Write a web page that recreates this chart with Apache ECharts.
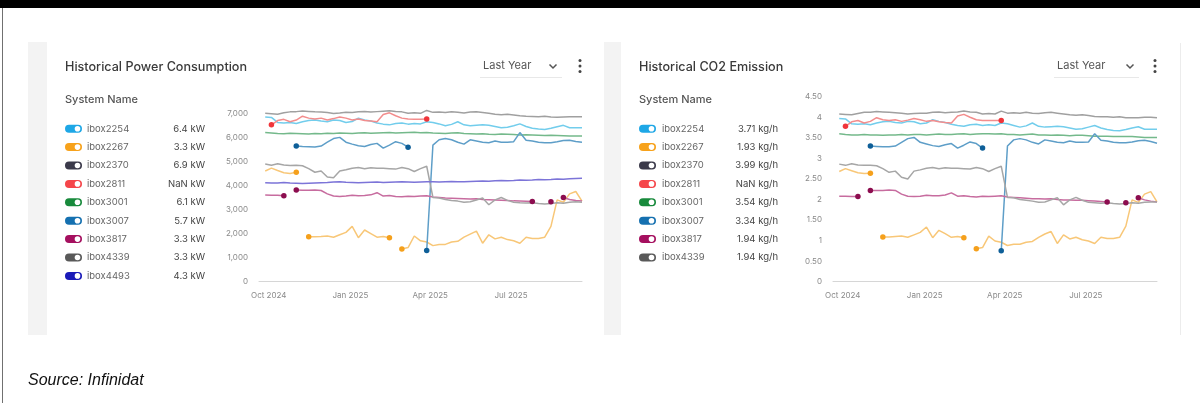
<!DOCTYPE html>
<html><head><meta charset="utf-8">
<script src="https://cdn.jsdelivr.net/npm/echarts@6/dist/echarts.min.js"></script>
<style>html,body{margin:0;padding:0;background:#fff}#c{width:1200px;height:403px}</style>
</head><body><div id="c"></div>
<script>
// ---- categories ----
const dates = ['2024-09-27','2024-10-04','2024-10-11','2024-10-18','2024-10-25','2024-11-01','2024-11-08','2024-11-15','2024-11-22','2024-11-29',
'2024-12-06','2024-12-13','2024-12-20','2024-12-27','2025-01-03','2025-01-10','2025-01-17','2025-01-24','2025-01-31','2025-02-07',
'2025-02-14','2025-02-21','2025-02-28','2025-03-07','2025-03-14','2025-03-21','2025-03-28','2025-04-04','2025-04-11','2025-04-18',
'2025-04-25','2025-05-02','2025-05-09','2025-05-16','2025-05-23','2025-05-30','2025-06-06','2025-06-13','2025-06-20','2025-06-27',
'2025-07-04','2025-07-11','2025-07-18','2025-07-25','2025-08-01','2025-08-08','2025-08-15','2025-08-22','2025-08-29','2025-09-05',
'2025-09-12','2025-09-19'];
const systems = ['ibox2254','ibox2267','ibox2370','ibox2811','ibox3001','ibox3007','ibox3817','ibox4339','ibox4493'];
const xTickDates = ['2024-10-01','2025-01-01','2025-04-01','2025-07-01'];
const xTickLabels = ['Oct 2024','Jan 2025','Apr 2025','Jul 2025'];
const powerLatest = [6.4, 3.3, 6.9, NaN, 6.1, 5.7, 3.3, 3.3, 4.3];
const co2Latest = [3.71, 1.93, 3.99, NaN, 3.54, 3.34, 1.94, 1.94];

// ---- power (W) ----
const pw2254 = [6850,6830,6620,6600,6620,6580,6650,6700,6720,6680,6650,6720,6700,6620,6660,6800,6720,6680,6600,6550,6520,6580,6600,6550,6580,6560,6650,6620,6560,6480,6540,6650,6520,6480,6500,6520,6500,6450,6400,6420,6480,6560,6450,6380,6350,6330,6380,6440,6500,6400,6400,6400];
const pw2267 = [4600,4720,4620,4530,4500,4550,null,1870,1870,1880,1900,1850,1950,2050,2300,1830,2150,2000,1850,1880,1830,null,1360,1420,1900,1700,1650,1500,1550,1550,1650,1680,1850,1980,2100,1600,1950,1780,1850,1750,1700,1600,1850,1800,1800,1850,2300,3400,3300,3650,3750,3350];
const pw2370 = [7000,6980,6960,7020,7060,7070,7100,7080,7060,7050,7030,6990,7010,7040,7030,7060,7080,7050,7070,7090,7110,7080,7060,7000,7020,7000,7120,7040,7050,7030,7060,7040,7010,7050,7060,7030,7000,6960,6940,6960,6930,6900,6880,6870,6860,6880,6850,6840,6850,6860,6860,6860];
const pw2811 = [null,6520,6700,6750,6650,6720,6880,6800,6760,6800,6720,6780,6850,6800,6720,6760,6700,6680,6650,6950,7020,6900,6800,6760,6750,6750,6760,null,null,null,null,null,null,null,null,null,null,null,null,null,null,null,null,null,null,null,null,null,null,null,null,null];
const pw3001 = [6200,6180,6160,6150,6170,6160,6150,6140,6160,6150,6170,6160,6180,6170,6160,6180,6190,6170,6180,6190,6200,6180,6190,6200,6210,6190,6200,6180,6170,6160,6180,6190,6160,6150,6140,6150,6130,6120,6140,6130,6120,6100,6110,6100,6090,6080,6090,6080,6070,6060,6060,6060];
const pw3007 = [null,null,null,null,null,5640,5620,5610,5600,5640,5800,5950,6000,5800,5720,5650,5620,5700,5750,5550,5680,5820,5750,5590,null,null,1300,5680,5900,5950,5900,5800,5720,5900,5850,5800,5780,5850,5800,5800,5820,6200,5880,5850,5800,5780,5780,5820,5870,5880,5830,5800];
const pw3817 = [3600,3590,3590,3570,null,3810,3800,3800,3810,3790,3650,3560,3540,3560,3590,3570,3580,3610,3700,3560,3580,3540,3530,3550,3540,3560,3570,3520,3500,3480,3470,3460,3450,3440,3450,3420,3410,3400,3390,3380,3360,3350,3340,3330,null,null,3320,null,3500,3420,3380,3350];
const pw4339 = [4890,4840,4900,4850,4830,4840,4820,4700,4550,4600,4350,4320,4600,4650,4720,4750,4700,4740,4720,4720,4700,4680,4750,4700,4580,4700,4800,3500,3480,3420,3380,3350,3300,3320,3400,3480,3200,3400,3500,3380,3300,3280,3270,3280,3250,3230,3250,3280,3260,3300,3320,3300];
const pw4493 = [4110,4100,4100,4120,4100,4090,4080,4090,4100,4110,4120,4140,4150,4130,4120,4110,4120,4130,4140,4120,4130,4140,4150,4140,4130,4140,4150,4150,4140,4160,4170,4160,4150,4170,4180,4190,4180,4200,4210,4200,4210,4230,4220,4230,4250,4240,4250,4270,4260,4280,4290,4300];

// ---- CO2 (kg/h) ----
const co2254 = [3.97,3.96,3.84,3.83,3.84,3.82,3.86,3.89,3.90,3.87,3.86,3.90,3.89,3.84,3.86,3.94,3.90,3.87,3.83,3.80,3.78,3.82,3.83,3.80,3.82,3.80,3.86,3.84,3.80,3.76,3.79,3.86,3.78,3.76,3.77,3.78,3.77,3.74,3.71,3.72,3.76,3.80,3.74,3.70,3.68,3.67,3.70,3.74,3.77,3.71,3.71,3.71];
const co2267 = [2.68,2.75,2.70,2.65,2.63,2.64,null,1.09,1.09,1.10,1.11,1.08,1.14,1.20,1.33,1.07,1.25,1.17,1.08,1.10,1.07,null,0.80,0.83,1.11,0.99,0.96,0.88,0.91,0.91,0.96,0.98,1.08,1.16,1.22,0.93,1.14,1.04,1.08,1.02,0.99,0.93,1.08,1.05,1.05,1.08,1.35,1.99,1.93,2.13,2.19,1.94];
const co2370 = [4.08,4.07,4.06,4.09,4.12,4.12,4.14,4.13,4.12,4.11,4.10,4.08,4.09,4.10,4.10,4.12,4.13,4.11,4.12,4.13,4.15,4.13,4.12,4.08,4.09,4.08,4.15,4.10,4.11,4.10,4.12,4.10,4.09,4.11,4.12,4.10,4.08,4.06,4.05,4.06,4.04,4.02,4.01,4.01,4.00,4.01,3.99,3.99,3.99,4.00,4.00,3.99];
const co2811 = [null,3.78,3.89,3.92,3.86,3.90,3.99,3.94,3.92,3.94,3.90,3.93,3.97,3.94,3.90,3.92,3.89,3.87,3.86,4.03,4.07,4.00,3.94,3.92,3.92,3.92,3.92,null,null,null,null,null,null,null,null,null,null,null,null,null,null,null,null,null,null,null,null,null,null,null,null,null];
const co3001 = [3.60,3.58,3.57,3.57,3.58,3.57,3.57,3.56,3.57,3.57,3.58,3.57,3.58,3.58,3.57,3.58,3.59,3.58,3.58,3.59,3.60,3.58,3.59,3.60,3.60,3.59,3.60,3.58,3.58,3.57,3.58,3.59,3.57,3.57,3.56,3.57,3.56,3.55,3.56,3.56,3.55,3.54,3.54,3.54,3.53,3.53,3.53,3.53,3.52,3.51,3.51,3.51];
const co3007 = [null,null,null,null,null,3.30,3.29,3.28,3.28,3.30,3.39,3.48,3.51,3.39,3.35,3.31,3.29,3.33,3.36,3.25,3.32,3.40,3.36,3.25,null,null,0.75,3.30,3.45,3.48,3.45,3.39,3.35,3.45,3.42,3.39,3.38,3.42,3.39,3.39,3.40,3.60,3.44,3.42,3.39,3.38,3.38,3.40,3.43,3.44,3.41,3.37];
const co3817 = [2.08,2.08,2.07,2.07,null,2.22,2.22,2.22,2.23,2.22,2.13,2.08,2.07,2.08,2.10,2.09,2.09,2.11,2.16,2.08,2.09,2.07,2.06,2.08,2.07,2.08,2.09,2.06,2.05,2.04,2.03,2.02,2.02,2.01,2.02,2.00,1.99,1.99,1.98,1.98,1.97,1.96,1.95,1.94,null,null,1.92,null,2.04,1.99,1.96,1.94];
const co4339 = [2.86,2.83,2.87,2.84,2.83,2.83,2.82,2.75,2.66,2.69,2.54,2.50,2.69,2.72,2.76,2.78,2.75,2.77,2.76,2.76,2.75,2.74,2.78,2.75,2.68,2.75,2.81,2.05,2.04,2.00,1.98,1.96,1.93,1.94,1.99,2.04,1.87,1.99,2.05,1.98,1.93,1.92,1.91,1.92,1.90,1.89,1.90,1.92,1.91,1.93,1.94,1.94];

const powerSeries = [pw2254,pw2267,pw2370,pw2811,pw3001,pw3007,pw3817,pw4339,pw4493];
const co2Series = [co2254,co2267,co2370,co2811,co3001,co3007,co3817,co4339];

// ---- styles ----
const toggleColors = ['#1ea7e6','#f7a21b','#3b3a4a','#f5464a','#188a3c','#1570b0','#a5105f','#595959','#1a1ab8'];
const lineColors = ['#72cdec','#f8c778','#a0a0a0','#f38d8d','#74b98b','#5e9ec8','#c76c9f','#a6a6a6','#7c74d8'];
const dotColors = ['#1ea7e6','#f5a01c','#3b3a4a','#f0353a','#188a3c','#0e5f98','#8c0d4f','#595959','#1a1ab8'];
const FONT = 'Inter, "Noto Sans", sans-serif';

const chart = echarts.init(document.getElementById('c'), null, {renderer: 'canvas'});
const ts = d => new Date(d + 'T00:00:00').getTime();
const xTickTimes = xTickDates.map(ts);

function buildData(arr) {
  return arr.map((v, i) => {
    if (v === null) return {value: [ts(dates[i]), '-']};
    const prevNull = i > 0 && arr[i - 1] === null;
    const nextNull = i < arr.length - 1 && arr[i + 1] === null;
    return {value: [ts(dates[i]), v], symbol: (prevNull || nextNull) ? 'circle' : 'none'};
  });
}

function xAxisCfg(gi) {
  return {
    type: 'value', gridIndex: gi,
    min: ts('2024-09-20'), max: ts('2025-09-19'),
    axisLine: {show: true, lineStyle: {color: '#d6d6d6', width: 1}},
    axisTick: {show: false},
    splitLine: {show: false},
    axisLabel: {
      customValues: xTickTimes,
      color: '#8a8a8a', fontSize: 8, fontFamily: FONT, margin: 10,
      formatter: v => { const k = xTickTimes.indexOf(v); return k >= 0 ? xTickLabels[k] : ''; }
    }
  };
}

const series = [];
powerSeries.forEach((arr, k) => series.push({
  name: systems[k], type: 'line', xAxisIndex: 0, yAxisIndex: 0,
  data: buildData(arr), showSymbol: true, showAllSymbol: true, symbolSize: 5.5,
  lineStyle: {color: lineColors[k], width: 1.5}, itemStyle: {color: dotColors[k]},
  silent: true, animation: false
}));
co2Series.forEach((arr, k) => series.push({
  name: systems[k], type: 'line', xAxisIndex: 1, yAxisIndex: 1,
  data: buildData(arr), showSymbol: true, showAllSymbol: true, symbolSize: 5.5,
  lineStyle: {color: lineColors[k], width: 1.5}, itemStyle: {color: dotColors[k]},
  silent: true, animation: false
}));

// ---- frame / texts ----
const g = [];
const T = (x, y, text, font, fill, align) => ({type: 'text', x, y, silent: true,
  style: {text, font, fill, textAlign: align || 'left', align: align || 'left', textVerticalAlign: 'middle', verticalAlign: 'middle'}});
g.push({type: 'rect', shape: {x: 0, y: 0, width: 1200, height: 8}, style: {fill: '#000'}, silent: true});
g.push({type: 'rect', shape: {x: 2, y: 8, width: 1, height: 395}, style: {fill: '#707070'}, silent: true});
g.push({type: 'rect', shape: {x: 28, y: 42, width: 19, height: 293}, style: {fill: '#f3f3f3'}, silent: true});
g.push({type: 'rect', shape: {x: 604, y: 42, width: 17, height: 293}, style: {fill: '#f3f3f3'}, silent: true});
g.push({type: 'rect', shape: {x: 1180, y: 43, width: 1, height: 292}, style: {fill: '#ececec'}, silent: true});

const panels = [
  {x0: 65, title: 'Historical Power Consumption', lastX: 483, chevX: 553, dotsX: 580, nameX: 87, valX: 205, n: 9,
   fmt: v => v + ' kW', vals: powerLatest},
  {x0: 639, title: 'Historical CO2 Emission', lastX: 1057, chevX: 1130, dotsX: 1155, nameX: 662, valX: 778, n: 8,
   fmt: v => (isNaN(v) ? 'NaN' : v.toFixed(2)) + ' kg/h', vals: co2Latest}
];
panels.forEach(p => {
  g.push(T(p.x0, 67, p.title, '500 12.6px ' + FONT, '#3a3a3a'));
  g.push(T(p.lastX, 66, 'Last Year', '400 11px ' + FONT, '#555'));
  g.push({type: 'rect', shape: {x: p.lastX - 3, y: 77, width: p.chevX - p.lastX + 12, height: 1}, style: {fill: '#e8e8e8'}, silent: true});
  g.push({type: 'polyline', shape: {points: [[p.chevX - 3.5, 64.5], [p.chevX, 68], [p.chevX + 3.5, 64.5]]}, style: {stroke: '#555', lineWidth: 1.5, fill: null}, silent: true});
  [60.5, 66, 71.5].forEach(y => g.push({type: 'circle', shape: {cx: p.dotsX, cy: y, r: 1.5}, style: {fill: '#444'}, silent: true}));
  g.push(T(p.x0, 100, 'System Name', '500 11px ' + FONT, '#555'));
  for (let k = 0; k < p.n; k++) {
    const y = 128.7 + 18.4 * k;
    g.push({type: 'rect', shape: {x: p.x0, y: y - 4, width: 17, height: 8, r: 4}, style: {fill: toggleColors[k]}, silent: true});
    g.push({type: 'circle', shape: {cx: p.x0 + 12.5, cy: y, r: 2.8}, style: {fill: '#fff'}, silent: true});
    g.push(T(p.nameX, y, systems[k], '400 9.5px ' + FONT, '#666'));
    g.push(T(p.valX, y, p.fmt(p.vals[k]), '400 9.5px ' + FONT, '#444', 'right'));
  }
});
g.push(T(28, 381, 'Source: Infinidat', 'italic 16px "Liberation Sans", Arial, sans-serif', '#111'));

chart.setOption({
  backgroundColor: '#fff',
  animation: false,
  graphic: {elements: g},
  grid: [
    {left: 259, top: 108.5, width: 323, height: 173.2, containLabel: false},
    {left: 833, top: 96.7, width: 324, height: 185, containLabel: false}
  ],
  xAxis: [xAxisCfg(0), xAxisCfg(1)],
  yAxis: [
    {type: 'value', gridIndex: 0, min: 0, max: 7200, interval: 1000,
     axisLine: {show: false}, axisTick: {show: false}, splitLine: {show: false},
     axisLabel: {showMaxLabel: false, color: '#8a8a8a', fontSize: 8, fontFamily: FONT, margin: 11,
       formatter: v => v.toLocaleString('en-US')}},
    {type: 'value', gridIndex: 1, min: 0, max: 4.5, interval: 0.5,
     axisLine: {show: false}, axisTick: {show: false}, splitLine: {show: false},
     axisLabel: {color: '#8a8a8a', fontSize: 8, fontFamily: FONT, margin: 11,
       formatter: v => Number.isInteger(v) ? String(v) : v.toFixed(2)}}
  ],
  series
});
</script></body></html>
